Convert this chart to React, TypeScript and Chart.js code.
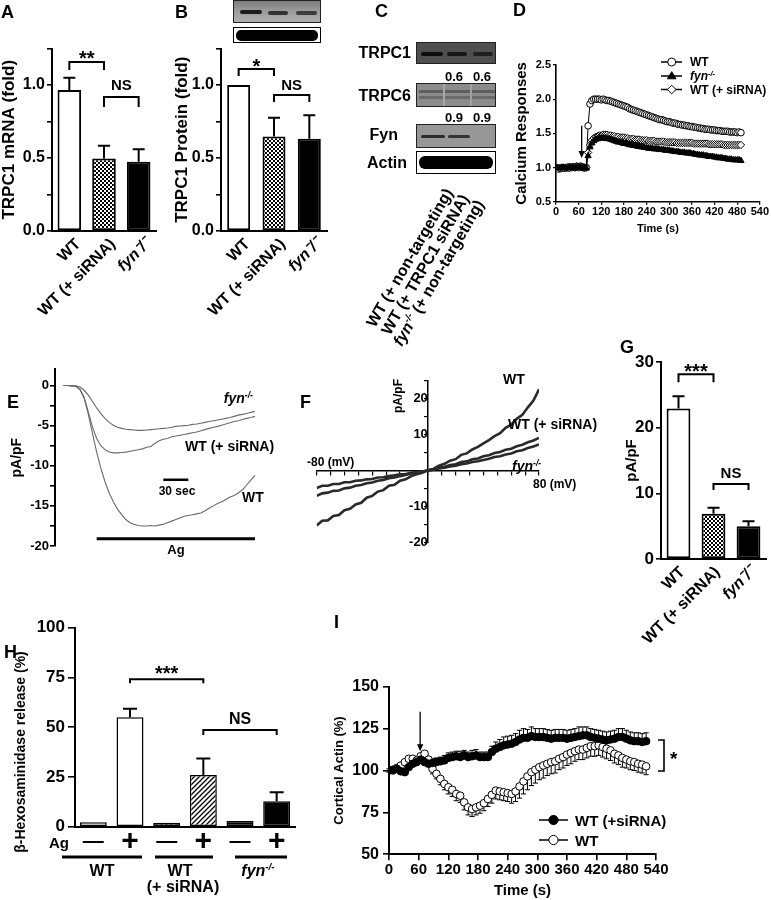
import React, { useEffect, useRef } from 'react';
import { Chart, registerables } from 'chart.js';

Chart.register(...registerables);

const FONT = "'Liberation Sans', Arial, Helvetica, sans-serif";

/* ================= DATA ================= */
const GROUP3 = ['WT', 'WT (+ siRNA)', 'fyn\u207B/\u207B'];

const A_MRNA = [0.965, 0.497, 0.475];
const A_MRNA_SEM = [0.085, 0.087, 0.085];

const B_PROTEIN = [1.0, 0.648, 0.632];
const B_PROTEIN_SEM = [0.004, 0.128, 0.16];

const G_CURRENT = [22.9, 6.9, 5.0];
const G_CURRENT_SEM = [1.9, 0.9, 0.75];

const H_AG = ['\u2014', '+', '\u2014', '+', '\u2014', '+'];
const H_RELEASE = [2.2, 55.0, 2.0, 26.0, 2.8, 12.8];
const H_RELEASE_SEM = [0.2, 4.2, 0.2, 8.2, 0.3, 4.5];

// D: calcium responses, sampled every 5 s from 0 s
const D_TIME_STEP = 5;
const D_WT = [
  1.00, 0.99, 0.98, 0.99, 1.00, 0.99, 1.00, 1.01, 1.00, 1.01, 1.00, 1.02, 1.01, 1.02, 1.01, 1.00, 1.00,
  1.61, 1.93, 1.98, 2.00, 2.00, 2.00, 2.00, 1.99, 2.00, 1.99,
  1.98, 1.98, 1.97, 1.96, 1.95, 1.94, 1.93, 1.92, 1.91, 1.90,
  1.89, 1.88, 1.86, 1.85, 1.84, 1.83, 1.82, 1.81, 1.80, 1.79,
  1.78, 1.77, 1.76, 1.75, 1.74, 1.73, 1.72, 1.71, 1.70, 1.70,
  1.69, 1.68, 1.67, 1.67, 1.66, 1.65, 1.65, 1.64, 1.63, 1.63,
  1.62, 1.62, 1.61, 1.61, 1.60, 1.60, 1.59, 1.59, 1.58, 1.58,
  1.57, 1.57, 1.56, 1.56, 1.56, 1.55, 1.55, 1.55, 1.54, 1.54,
  1.54, 1.53, 1.53, 1.53, 1.53, 1.52, 1.52, 1.52, 1.52, 1.51,
  1.52, 1.51,
];
const D_SIRNA = [
  0.99, 0.98, 0.99, 1.00, 0.99, 1.00, 1.00, 0.99, 1.00, 1.01, 1.00, 1.01, 1.00, 1.01, 1.00, 0.99, 1.00,
  1.22, 1.33, 1.40, 1.43, 1.45, 1.46, 1.47, 1.47, 1.48, 1.48,
  1.48, 1.47, 1.47, 1.46, 1.46, 1.45, 1.45, 1.44, 1.44, 1.44,
  1.43, 1.43, 1.42, 1.42, 1.42, 1.41, 1.41, 1.41, 1.40, 1.40,
  1.40, 1.40, 1.39, 1.39, 1.39, 1.39, 1.38, 1.38, 1.38, 1.38,
  1.38, 1.37, 1.37, 1.37, 1.37, 1.37, 1.37, 1.36, 1.36, 1.36,
  1.36, 1.36, 1.36, 1.36, 1.36, 1.36, 1.35, 1.35, 1.35, 1.35,
  1.35, 1.35, 1.35, 1.35, 1.34, 1.34, 1.34, 1.34, 1.34, 1.34,
  1.34, 1.34, 1.33, 1.33, 1.33, 1.33, 1.33, 1.33, 1.33, 1.33,
  1.33, 1.33,
];
const D_FYN = [
  1.00, 0.99, 0.99, 1.00, 1.00, 0.99, 0.99, 1.00, 1.00, 1.00, 0.99, 1.00, 1.00, 1.00, 0.99, 0.99, 0.99,
  1.17, 1.30, 1.36, 1.39, 1.41, 1.42, 1.43, 1.43, 1.43, 1.43,
  1.42, 1.42, 1.41, 1.40, 1.39, 1.38, 1.37, 1.37, 1.36, 1.35,
  1.35, 1.34, 1.33, 1.33, 1.32, 1.32, 1.31, 1.31, 1.30, 1.30,
  1.29, 1.29, 1.28, 1.28, 1.28, 1.27, 1.27, 1.27, 1.26, 1.26,
  1.26, 1.25, 1.25, 1.25, 1.24, 1.24, 1.23, 1.23, 1.23, 1.22,
  1.22, 1.22, 1.21, 1.21, 1.21, 1.20, 1.20, 1.19, 1.19, 1.18,
  1.18, 1.18, 1.17, 1.17, 1.16, 1.16, 1.16, 1.15, 1.15, 1.14,
  1.14, 1.14, 1.13, 1.13, 1.12, 1.12, 1.12, 1.11, 1.11, 1.11,
  1.11, 1.10,
];

// E: whole-cell current traces, sampled every 5 s from 10 s
const E_TIME_START = 10;
const E_TIME_STEP = 5;
const E_WT = [
  0, 0, -0.05, -0.1, -0.5, -1.6, -3.6, -6.0, -8.3, -10.3,
  -12.0, -13.4, -14.5, -15.4, -16.1, -16.7, -17.1, -17.3, -17.45, -17.5,
  -17.5, -17.45, -17.5, -17.4, -17.3, -17.1, -16.9, -16.7, -16.5, -16.3,
  -16.2, -16.1, -16.0, -15.9, -15.6, -15.3, -15.0, -14.7, -14.5, -14.2,
  -13.9, -13.7, -13.4, -13.0, -12.4, -11.8, -11.2,
];
const E_SIRNA = [
  0, 0, -0.05, -0.1, -0.5, -1.5, -3.3, -5.2, -6.6, -7.5,
  -8.0, -8.3, -8.4, -8.4, -8.35, -8.3, -8.2, -8.1, -8.0, -7.9,
  -7.7, -7.6, -7.2, -6.9, -6.7, -6.6, -6.4, -6.3, -6.2, -6.1,
  -6.0, -5.9, -5.8, -5.65, -5.5, -5.35, -5.2, -5.1, -4.95, -4.8,
  -4.65, -4.5, -4.4, -4.25, -4.1, -4.0, -3.85,
];
const E_FYN = [
  0, 0, -0.02, -0.05, -0.2, -0.6, -1.2, -2.0, -2.8, -3.5,
  -4.1, -4.6, -4.95, -5.2, -5.35, -5.45, -5.5, -5.55, -5.6, -5.6,
  -5.55, -5.5, -5.45, -5.4, -5.35, -5.3, -5.2, -5.1, -5.05, -5.0,
  -4.95, -4.85, -4.8, -4.7, -4.6, -4.5, -4.4, -4.3, -4.2, -4.1,
  -4.0, -3.85, -3.7, -3.6, -3.5, -3.35, -3.25,
];

// F: I-V relations, every 4 mV from -80 mV
const F_V_START = -80;
const F_V_STEP = 4;
const F_WT = [
  -15.2, -13.9, -13.8, -12.6, -12.3, -11.0, -10.6, -9.4, -8.9, -7.5,
  -7.0, -5.8, -5.4, -4.2, -3.9, -2.8, -2.4, -1.5, -1.0, -0.6,
  0.1, 0.5, 1.4, 1.9, 2.8, 3.2, 4.4, 4.8, 5.9, 6.6,
  7.6, 8.5, 9.6, 10.4, 11.9, 12.8, 14.4, 15.5, 17.6, 19.5, 22.6,
];
const F_SIRNA = [
  -7.0, -6.3, -6.1, -5.6, -5.5, -4.9, -4.7, -4.2, -4.0, -3.5,
  -3.3, -2.8, -2.6, -2.1, -1.9, -1.5, -1.2, -0.8, -0.6, -0.2,
  0.1, 0.4, 0.9, 1.1, 1.6, 1.8, 2.4, 2.6, 3.2, 3.4,
  4.0, 4.3, 4.9, 5.2, 5.8, 6.1, 6.8, 7.2, 7.9, 8.4, 9.1,
];
const F_FYN = [
  -4.8, -4.2, -4.2, -3.7, -3.7, -3.2, -3.2, -2.8, -2.7, -2.4,
  -2.3, -1.9, -1.8, -1.5, -1.3, -1.0, -0.9, -0.6, -0.4, -0.2,
  0.0, 0.3, 0.6, 0.8, 1.2, 1.4, 1.8, 2.0, 2.4, 2.6,
  3.0, 3.3, 3.8, 4.0, 4.5, 4.8, 5.4, 5.7, 6.3, 6.7, 7.3,
];

// I: cortical actin, every 8 s from 0 s
const I_TIME_STEP = 8;
const I_SIRNA = [
  100, 100.5, 101, 99.5, 99, 102, 104, 105, 106.5, 105,
  104, 104.5, 105, 105.5, 106, 107.5, 108, 108.5, 108, 109,
  108, 108.5, 109, 108, 108, 108, 111, 113, 114, 115,
  115.5, 116, 117, 118.5, 119.5, 119.5, 120.5, 120, 120, 120,
  119.5, 119, 119.5, 119.5, 119.5, 119, 119.5, 120, 120.5, 121,
  121, 120, 119.5, 119, 118.5, 118, 118.5, 119, 120, 120,
  119, 118, 117.5, 117.5, 117, 117.5,
];
const I_SIRNA_SEM = [
  1, 1.5, 1.5, 2, 2, 2, 2, 2, 2.5, 2.5,
  2.5, 2.5, 2.5, 2.5, 3, 3, 3, 3, 3.5, 3,
  3, 3.5, 3.5, 3, 3, 3, 3.5, 4, 4.5, 5,
  5, 5, 5, 5.5, 5.5, 5, 5.5, 5, 5, 5,
  5, 5, 5, 5, 5, 5, 5, 5, 5.5, 5,
  5, 5, 5, 5, 5, 5, 5, 5, 5, 5,
  5, 5, 5, 5, 5, 5,
];
const I_WT = [
  100, 100, 101.5, 103, 105, 107, 107, 106, 108.5, 110,
  106.5, 101, 98, 95, 92, 90, 88.5, 86, 85, 81,
  78, 77, 78, 79, 80.5, 83, 85.5, 88, 87.5, 87,
  86.5, 86, 87.5, 90.5, 93.5, 96.5, 99, 100.5, 102, 103,
  104, 105, 105.5, 107, 108, 109.5, 110.5, 111.5, 112.5, 112.5,
  113.5, 114.5, 114.5, 115, 114, 113, 112, 110, 109, 107.5,
  106.5, 105.5, 105, 104, 103.5, 102.5,
];
const I_WT_SEM = [
  1, 1, 1.5, 1.5, 2, 2, 2, 2, 2.5, 2.5,
  2.5, 3, 3, 3.5, 3.5, 4, 4, 4, 4, 4.5,
  4.5, 4.5, 4.5, 4.5, 4.5, 4.5, 5, 5, 5, 5,
  5, 5.5, 6, 7, 7.5, 8, 8, 8, 7.5, 7.5,
  7, 7, 7, 6.5, 6.5, 6.5, 6.5, 6, 6, 6,
  6, 6, 6, 6, 6, 6, 6, 5.5, 5.5, 5.5,
  5, 5, 5, 5, 5, 5,
];

/* ================= LAYOUT ================= */
type Box = { L: number; T: number; W: number; H: number };
type Plot = { l: number; t: number; r: number; b: number };

const BOX: Record<string, Box> = {
  A: { L: 0, T: 0, W: 200, H: 330 },
  B: { L: 173, T: 0, W: 190, H: 330 },
  D: { L: 513, T: 0, W: 258, H: 235 },
  E: { L: 9, T: 340, W: 291, H: 221 },
  F: { L: 290, T: 340, W: 310, H: 260 },
  G: { L: 623, T: 330, W: 148, H: 330 },
  H: { L: 11, T: 600, W: 300, H: 300 },
  I: { L: 332, T: 600, W: 439, H: 299 },
};
const PLOT: Record<string, Plot> = {
  A: { l: 52, t: 48.5, r: 156, b: 231 },
  B: { l: 221, t: 48.5, r: 327, b: 231 },
  D: { l: 556, t: 65, r: 761, b: 201.7 },
  E: { l: 55, t: 369.4, r: 290, b: 546 },
  F: { l: 316.7, t: 380.7, r: 539, b: 542.7 },
  G: { l: 661, t: 362, r: 766, b: 559 },
  H: { l: 75, t: 627.5, r: 295, b: 826.7 },
  I: { l: 389, t: 686.7, r: 656, b: 854.3 },
};
const E_TIME_MAX = 282;

/* ================= HELPERS ================= */
const COMMON = {
  responsive: false,
  maintainAspectRatio: false,
  animation: false,
  events: [],
  plugins: { legend: { display: false }, tooltip: { enabled: false } },
};

function gridOpts(tl: number, w: number) {
  return {
    display: true, drawOnChartArea: false, drawTicks: true, tickLength: tl,
    color: '#000', tickColor: '#000', tickWidth: w, lineWidth: w,
  };
}

function yAxis(o: any) {
  return {
    type: 'linear', min: o.min, max: o.max,
    afterFit: (s: any) => { s.width = o.width; },
    ticks: {
      stepSize: o.step, autoSkip: false, includeBounds: false, padding: o.pad, color: '#000',
      font: { family: FONT, size: o.size, weight: 'bold', lineHeight: 1 },
      callback: o.fmt,
    },
    grid: gridOpts(o.tl, o.bw * 0.8),
    border: { display: true, color: '#000', width: o.bw },
    title: o.title
      ? { display: true, text: o.title, color: '#000', font: { family: FONT, size: o.titleSize, weight: 'bold', lineHeight: 1 }, padding: { top: 1, bottom: 0 } }
      : { display: false },
  };
}

function xLin(o: any) {
  return {
    type: 'linear', min: o.min, max: o.max,
    afterFit: (s: any) => { s.height = o.height; },
    ticks: {
      stepSize: o.step, autoSkip: false, minRotation: 0, maxRotation: 0, padding: o.pad, color: '#000',
      font: { family: FONT, size: o.size, weight: 'bold', lineHeight: 1 },
      callback: (v: any) => String(v),
    },
    grid: gridOpts(o.tl, o.bw * 0.8),
    border: { display: true, color: '#000', width: o.bw },
    title: { display: true, text: o.title, color: '#000', font: { family: FONT, size: o.titleSize, weight: 'bold', lineHeight: 1 }, padding: { top: 0, bottom: 1 } },
  };
}

function catX(o: any) {
  return {
    type: 'category', offset: true,
    afterFit: (s: any) => { s.height = o.height; },
    grid: { display: false, drawTicks: false, drawOnChartArea: false },
    border: { display: true, color: '#000', width: 2 },
    ticks: {
      autoSkip: false, minRotation: o.rot, maxRotation: o.rot, padding: o.pad, labelOffset: o.lo || 0,
      color: '#000', font: o.font,
    },
  };
}

function pad(box: Box, plot: Plot, left = 0, bottom = 0) {
  return { left, top: plot.t - box.T, right: box.L + box.W - plot.r, bottom };
}

function checker(): any {
  const c = document.createElement('canvas');
  c.width = 4; c.height = 4;
  const g = c.getContext('2d')!;
  g.fillStyle = '#fff'; g.fillRect(0, 0, 4, 4);
  g.fillStyle = '#000'; g.fillRect(0, 0, 2, 2); g.fillRect(2, 2, 2, 2);
  return g.createPattern(c, 'repeat');
}
function hatch(): any {
  const c = document.createElement('canvas');
  c.width = 5; c.height = 5;
  const g = c.getContext('2d')!;
  g.fillStyle = '#fff'; g.fillRect(0, 0, 5, 5);
  g.strokeStyle = '#000'; g.lineWidth = 1.3;
  g.beginPath();
  g.moveTo(0, 5); g.lineTo(5, 0);
  g.moveTo(-1, 1); g.lineTo(1, -1);
  g.moveTo(4, 6); g.lineTo(6, 4);
  g.stroke();
  return g.createPattern(c, 'repeat');
}

function arrow(ctx: CanvasRenderingContext2D, x: number, y1: number, y2: number) {
  ctx.strokeStyle = '#000'; ctx.fillStyle = '#000'; ctx.lineWidth = 1.3;
  ctx.beginPath(); ctx.moveTo(x, y1); ctx.lineTo(x, y2 - 5); ctx.stroke();
  ctx.beginPath(); ctx.moveTo(x, y2); ctx.lineTo(x - 3.2, y2 - 7); ctx.lineTo(x + 3.2, y2 - 7); ctx.closePath(); ctx.fill();
}

function marker(ctx: CanvasRenderingContext2D, kind: string, x: number, y: number, r: number, fill: string) {
  ctx.lineWidth = 1; ctx.strokeStyle = '#000'; ctx.fillStyle = fill;
  ctx.beginPath();
  if (kind === 'circle') ctx.arc(x, y, r, 0, Math.PI * 2);
  else if (kind === 'tri') { ctx.moveTo(x, y - r); ctx.lineTo(x + r, y + r * 0.65); ctx.lineTo(x - r, y + r * 0.65); ctx.closePath(); }
  else { ctx.moveTo(x, y - r); ctx.lineTo(x + r, y); ctx.lineTo(x, y + r); ctx.lineTo(x - r, y); ctx.closePath(); }
  ctx.fill(); ctx.stroke();
}

type Br = { a: number; b: number; y: number; drop: number; text: string; off: number; size: number };

function drawBracket(c: any, ctx: CanvasRenderingContext2D, br: Br) {
  const xs = c.scales.x, ys = c.scales.y;
  const x1 = xs.getPixelForValue(br.a), x2 = xs.getPixelForValue(br.b), yp = ys.getPixelForValue(br.y);
  ctx.strokeStyle = '#000'; ctx.lineWidth = 2; ctx.lineJoin = 'miter';
  ctx.beginPath();
  ctx.moveTo(x1, yp + br.drop); ctx.lineTo(x1, yp); ctx.lineTo(x2, yp); ctx.lineTo(x2, yp + br.drop);
  ctx.stroke();
  ctx.fillStyle = '#000'; ctx.font = `bold ${br.size}px ${FONT}`; ctx.textAlign = 'center'; ctx.textBaseline = 'alphabetic';
  ctx.fillText(br.text, (x1 + x2) / 2, yp - br.off);
}

function barConfig(key: string, p: any) {
  const box = BOX[key], plot = PLOT[key];
  return {
    type: 'bar',
    data: {
      labels: p.labels,
      datasets: [{
        data: p.values, backgroundColor: p.fills, borderColor: '#000', borderWidth: p.bw || 2,
        borderSkipped: false, barPercentage: p.barPct, categoryPercentage: 1,
      }],
    },
    options: {
      ...COMMON,
      layout: { padding: pad(box, plot) },
      scales: {
        x: catX({ ...p.x, height: box.T + box.H - plot.b }),
        y: yAxis({ ...p.y, width: plot.l - box.L }),
      },
    },
    plugins: [{
      id: 'deco',
      afterDatasetsDraw(c: any) {
        const ctx = c.ctx; ctx.save();
        const meta = c.getDatasetMeta(0); const ys = c.scales.y;
        ctx.strokeStyle = '#000'; ctx.lineWidth = 2;
        meta.data.forEach((el: any, i: number) => {
          const e = p.errs[i];
          const yt = ys.getPixelForValue(p.values[i] + e);
          if (el.y - yt < 2) return;
          ctx.beginPath();
          ctx.moveTo(el.x, el.y); ctx.lineTo(el.x, yt);
          ctx.moveTo(el.x - p.cap, yt); ctx.lineTo(el.x + p.cap, yt);
          ctx.stroke();
        });
        (p.brackets || []).forEach((br: Br) => drawBracket(c, ctx, br));
        if (p.extra) p.extra(c, ctx);
        ctx.restore();
      },
    }],
  };
}

const fmtHalf = (v: number) => (Math.abs(v * 2 - Math.round(v * 2)) < 1e-6 ? v.toFixed(1) : '');
const x3Font = (size: number) => (ctx: any) => ({
  family: FONT, size, weight: 'bold', style: ctx.index === 2 ? 'italic' : 'normal', lineHeight: 1,
});

function makeA() {
  return barConfig('A', {
    labels: GROUP3, values: A_MRNA, errs: A_MRNA_SEM,
    fills: ['#fff', checker(), '#000'], barPct: 0.68, cap: 6,
    x: { rot: 45, pad: 5, lo: 9, font: x3Font(16) },
    y: { min: 0, max: 1.25, step: 0.25, fmt: fmtHalf, size: 16, tl: 5, pad: 2, title: 'TRPC1 mRNA (fold)', titleSize: 17, bw: 2 },
    brackets: [
      { a: 0, b: 1, y: 1.1575, drop: 8, text: '**', off: -2.6, size: 20 },
      { a: 1, b: 2, y: 0.918, drop: 10, text: 'NS', off: 6.5, size: 15 },
    ],
  });
}

function makeB() {
  return barConfig('B', {
    labels: GROUP3, values: B_PROTEIN, errs: B_PROTEIN_SEM,
    fills: ['#fff', checker(), '#000'], barPct: 0.65, cap: 6,
    x: { rot: 45, pad: 5, lo: 9, font: x3Font(16) },
    y: { min: 0, max: 1.25, step: 0.25, fmt: fmtHalf, size: 16, tl: 5, pad: 2, title: 'TRPC1 Protein (fold)', titleSize: 17, bw: 2 },
    brackets: [
      { a: 0, b: 1, y: 1.11, drop: 7, text: '*', off: -3.6, size: 20 },
      { a: 1, b: 2, y: 0.9315, drop: 7, text: 'NS', off: 4.6, size: 15 },
    ],
  });
}

function makeG() {
  return barConfig('G', {
    labels: GROUP3, values: G_CURRENT, errs: G_CURRENT_SEM,
    fills: ['#fff', checker(), '#000'], barPct: 0.68, cap: 6,
    x: { rot: 45, pad: 5, lo: 4, font: x3Font(16) },
    y: { min: 0, max: 30, step: 10, fmt: (v: number) => String(v), size: 17, tl: 5, pad: 2, title: 'pA/pF', titleSize: 15, bw: 2 },
    brackets: [
      { a: 0, b: 1, y: 28.13, drop: 8, text: '***', off: -3.3, size: 20 },
      { a: 1, b: 2, y: 11.42, drop: 6, text: 'NS', off: 6, size: 15 },
    ],
  });
}

function makeH() {
  const box = BOX.H;
  return barConfig('H', {
    labels: H_AG, values: H_RELEASE, errs: H_RELEASE_SEM,
    fills: ['#fff', '#fff', hatch(), hatch(), '#000', '#000'], barPct: 0.735, cap: 7, bw: 1.5,
    x: {
      rot: 0, pad: 5,
      font: (ctx: any) => ({ family: FONT, size: ctx.index % 2 ? 30 : 21, weight: 'bold', lineHeight: '20px' }),
    },
    y: { min: 0, max: 100, step: 25, fmt: (v: number) => String(v), size: 17, tl: 7, pad: 3, title: '', bw: 2 },
    brackets: [
      { a: 1, b: 3, y: 74.0, drop: 4, text: '***', off: -0.3, size: 20 },
      { a: 3, b: 5, y: 48.5, drop: 5, text: 'NS', off: 5.6, size: 16 },
    ],
    extra: (c: any, ctx: CanvasRenderingContext2D) => {
      ctx.strokeStyle = '#000'; ctx.lineWidth = 3;
      [[62, 142], [155, 213], [235, 287]].forEach(([x1, x2]) => {
        ctx.beginPath(); ctx.moveTo(x1 - box.L, 857 - box.T); ctx.lineTo(x2 - box.L, 857 - box.T); ctx.stroke();
      });
    },
  });
}

function makeD() {
  const box = BOX.D, plot = PLOT.D;
  const pts = (arr: number[]) => arr.map((v, i) => ({ x: i * D_TIME_STEP, y: v }));
  const ds = (arr: number[], style: string, fill: string, r: number) => ({
    data: pts(arr), borderColor: '#000', borderWidth: 1, pointStyle: style, pointRadius: r,
    pointBackgroundColor: fill, pointBorderColor: '#000', pointBorderWidth: 1, tension: 0,
  });
  return {
    type: 'line',
    data: { datasets: [ds(D_FYN, 'triangle', '#000', 3.6), ds(D_SIRNA, 'rectRot', '#fff', 3.7), ds(D_WT, 'circle', '#fff', 3.3)] },
    options: {
      ...COMMON,
      layout: { padding: pad(box, plot) },
      scales: {
        x: xLin({ min: 0, max: 540, step: 60, size: 11, tl: 3, pad: 2, height: box.T + box.H - plot.b, title: 'Time (s)', titleSize: 11, bw: 1.6 }),
        y: yAxis({ min: 0.5, max: 2.5, step: 0.5, fmt: (v: number) => v.toFixed(1), size: 11, tl: 3, pad: 2, width: plot.l - box.L, title: 'Calcium Responses', titleSize: 15, bw: 1.6 }),
      },
    },
    plugins: [{
      id: 'deco',
      afterDraw(c: any) {
        const ctx = c.ctx; ctx.save();
        const xs = c.scales.x, ys = c.scales.y;
        arrow(ctx, xs.getPixelForValue(68), ys.getPixelForValue(1.61), ys.getPixelForValue(1.14));
        const items = [
          { y: 62, k: 'circle', f: '#fff' },
          { y: 76, k: 'tri', f: '#000' },
          { y: 89.5, k: 'diamond', f: '#fff' },
        ];
        items.forEach((it) => {
          ctx.strokeStyle = '#000'; ctx.lineWidth = 1.5;
          ctx.beginPath(); ctx.moveTo(661 - box.L, it.y - box.T); ctx.lineTo(682 - box.L, it.y - box.T); ctx.stroke();
          marker(ctx, it.k, 671.7 - box.L, it.y - box.T, it.k === 'circle' ? 4 : 4.3, it.f);
        });
        ctx.restore();
      },
    }],
  };
}

function makeE() {
  const box = BOX.E, plot = PLOT.E;
  const pts = (arr: number[]) => arr.map((v, i) => ({ x: E_TIME_START + i * E_TIME_STEP, y: v }));
  const ds = (arr: number[]) => ({ data: pts(arr), borderColor: '#6a6a6a', borderWidth: 1.1, pointRadius: 0, tension: 0 });
  return {
    type: 'line',
    data: { datasets: [ds(E_WT), ds(E_SIRNA), ds(E_FYN)] },
    options: {
      ...COMMON,
      layout: { padding: pad(box, plot, 0, box.T + box.H - plot.b) },
      scales: {
        x: { type: 'linear', display: false, min: 0, max: E_TIME_MAX },
        y: yAxis({
          min: -20, max: 2, step: 2.5,
          fmt: (v: number) => (v > 0 ? null : v % 5 === 0 ? String(v) : ''),
          size: 13, tl: 5, pad: 1, width: plot.l - box.L, title: 'pA/pF', titleSize: 14, bw: 2,
        }),
      },
    },
    plugins: [{
      id: 'deco',
      afterDraw(c: any) {
        const ctx = c.ctx; ctx.save();
        const xs = c.scales.x, ys = c.scales.y;
        ctx.strokeStyle = '#000';
        ctx.lineWidth = 3;
        ctx.beginPath(); ctx.moveTo(xs.getPixelForValue(50), ys.getPixelForValue(-19.1)); ctx.lineTo(xs.getPixelForValue(240), ys.getPixelForValue(-19.1)); ctx.stroke();
        ctx.lineWidth = 2.5;
        ctx.beginPath(); ctx.moveTo(xs.getPixelForValue(130), ys.getPixelForValue(-11.75)); ctx.lineTo(xs.getPixelForValue(160), ys.getPixelForValue(-11.75)); ctx.stroke();
        ctx.restore();
      },
    }],
  };
}

function makeF() {
  const box = BOX.F, plot = PLOT.F;
  const pts = (arr: number[]) => arr.map((v, i) => ({ x: F_V_START + i * F_V_STEP, y: v }));
  const ds = (arr: number[]) => ({ data: pts(arr), borderColor: '#2a2a2a', borderWidth: 2.6, pointRadius: 0, tension: 0 });
  return {
    type: 'line',
    data: { datasets: [ds(F_FYN), ds(F_SIRNA), ds(F_WT)] },
    options: {
      ...COMMON,
      layout: { padding: { left: plot.l - box.L, top: plot.t - box.T, right: box.L + box.W - plot.r, bottom: box.T + box.H - plot.b } },
      scales: {
        x: {
          type: 'linear', min: -80, max: 80, position: { y: 0 },
          ticks: { stepSize: 10, autoSkip: false, callback: () => '', padding: 0, font: { size: 2 } },
          grid: gridOpts(4, 1.2),
          border: { display: true, color: '#000', width: 1.5 },
        },
        y: {
          type: 'linear', min: -20, max: 25, position: { x: 0 },
          ticks: {
            stepSize: 5, autoSkip: false, padding: 1, color: '#000',
            font: { family: FONT, size: 13, weight: 'bold', lineHeight: 1 },
            callback: (v: number) => (v % 10 === 0 && v !== 0 ? String(v) : ''),
          },
          grid: gridOpts(3, 1.2),
          border: { display: true, color: '#000', width: 1.5 },
        },
      },
    },
  };
}

function makeI() {
  const box = BOX.I, plot = PLOT.I;
  const pts = (arr: number[]) => arr.map((v, i) => ({ x: i * I_TIME_STEP, y: v }));
  const ds = (arr: number[], fill: string) => ({
    data: pts(arr), borderColor: '#000', borderWidth: 1, pointStyle: 'circle', pointRadius: 3.8,
    pointBackgroundColor: fill, pointBorderColor: '#000', pointBorderWidth: 1, tension: 0,
  });
  return {
    type: 'line',
    data: { datasets: [ds(I_SIRNA, '#000'), ds(I_WT, '#fff')] },
    options: {
      ...COMMON,
      layout: { padding: pad(box, plot) },
      scales: {
        x: xLin({ min: 0, max: 540, step: 60, size: 15, tl: 6, pad: 2, height: box.T + box.H - plot.b, title: 'Time (s)', titleSize: 15, bw: 2 }),
        y: yAxis({ min: 50, max: 150, step: 25, fmt: (v: number) => String(v), size: 16, tl: 6, pad: 4, width: plot.l - box.L, title: 'Cortical Actin (%)', titleSize: 13, bw: 2 }),
      },
    },
    plugins: [{
      id: 'deco',
      beforeDatasetsDraw(c: any) {
        const ctx = c.ctx; ctx.save();
        const ys = c.scales.y;
        ctx.strokeStyle = '#000'; ctx.lineWidth = 1;
        const sets: any[] = [[0, I_SIRNA, I_SIRNA_SEM, 1], [1, I_WT, I_WT_SEM, -1]];
        sets.forEach(([di, vals, sem, dir]) => {
          c.getDatasetMeta(di).data.forEach((p: any, i: number) => {
            const yt = ys.getPixelForValue(vals[i] + dir * sem[i]);
            ctx.beginPath();
            ctx.moveTo(p.x, p.y); ctx.lineTo(p.x, yt);
            ctx.moveTo(p.x - 2.6, yt); ctx.lineTo(p.x + 2.6, yt);
            ctx.stroke();
          });
        });
        ctx.restore();
      },
      afterDraw(c: any) {
        const ctx = c.ctx; ctx.save();
        const xs = c.scales.x, ys = c.scales.y;
        arrow(ctx, xs.getPixelForValue(63), ys.getPixelForValue(135), ys.getPixelForValue(111.5));
        // significance bracket
        ctx.strokeStyle = '#000'; ctx.lineWidth = 1.6;
        ctx.beginPath();
        ctx.moveTo(658 - box.L, 740 - box.T); ctx.lineTo(664 - box.L, 740 - box.T);
        ctx.lineTo(664 - box.L, 771 - box.T); ctx.lineTo(658 - box.L, 771 - box.T);
        ctx.stroke();
        // legend
        [{ y: 820, f: '#000' }, { y: 840, f: '#fff' }].forEach((it) => {
          ctx.strokeStyle = '#000'; ctx.lineWidth = 1.5;
          ctx.beginPath(); ctx.moveTo(539 - box.L, it.y - box.T); ctx.lineTo(568 - box.L, it.y - box.T); ctx.stroke();
          marker(ctx, 'circle', 553.5 - box.L, it.y - box.T, 4.6, it.f);
        });
        ctx.restore();
      },
    }],
  };
}

/* ================= COMPONENTS ================= */
function ChartCanvas({ box, make }: { box: Box; make: () => any }) {
  const ref = useRef<HTMLCanvasElement | null>(null);
  useEffect(() => {
    if (!ref.current) return;
    const ch = new Chart(ref.current, make());
    return () => ch.destroy();
  }, []);
  return (
    <canvas ref={ref} width={box.W} height={box.H}
      style={{ position: 'absolute', left: box.L, top: box.T, width: box.W, height: box.H }} />
  );
}

function Tx({ x, y, s = 14, a = 'l', it = false, rot = 0, children }: any) {
  const tx = a === 'r' ? '-100%' : a === 'c' ? '-50%' : '0px';
  const origin = a === 'r' ? '100% 50%' : a === 'c' ? '50% 50%' : '0% 50%';
  return (
    <div style={{
      position: 'absolute', left: x, top: rot ? y - s / 2 : y - 0.49 * s,
      fontFamily: FONT, fontSize: s, fontWeight: 700, fontStyle: it ? 'italic' : 'normal',
      lineHeight: `${s}px`, whiteSpace: 'nowrap', color: '#000',
      transformOrigin: origin, transform: `translateX(${tx})${rot ? ` rotate(${rot}deg)` : ''}`,
    }}>{children}</div>
  );
}

const Sup = ({ children }: any) => (
  <span style={{ fontSize: '0.62em', position: 'relative', top: '-0.62em' }}>{children}</span>
);
const Fyn = () => <span style={{ fontStyle: 'italic' }}>fyn<Sup>-/-</Sup></span>;

function Blot({ x, y, w, h, bg, border = '1px solid #222', bands = [] }: any) {
  return (
    <div style={{ position: 'absolute', left: x, top: y, width: w, height: h, background: bg, border, boxSizing: 'border-box', overflow: 'hidden' }}>
      {bands.map((b: any, i: number) => (
        <div key={i} style={{ position: 'absolute', left: b[0], top: b[1], width: b[2], height: b[3], background: b[4], borderRadius: b[5] ?? 2, filter: 'blur(0.7px)' }} />
      ))}
    </div>
  );
}

export default function App() {
  return (
    <div style={{ position: 'absolute', left: 0, top: 0, width: 771, height: 900, background: '#fff', overflow: 'hidden' }}>
      <ChartCanvas box={BOX.A} make={makeA} />
      <ChartCanvas box={BOX.B} make={makeB} />
      <ChartCanvas box={BOX.D} make={makeD} />
      <ChartCanvas box={BOX.E} make={makeE} />
      <ChartCanvas box={BOX.F} make={makeF} />
      <ChartCanvas box={BOX.G} make={makeG} />
      <ChartCanvas box={BOX.H} make={makeH} />
      <ChartCanvas box={BOX.I} make={makeI} />

      {/* panel letters */}
      <Tx x={1} y={12} s={18}>A</Tx>
      <Tx x={175} y={12} s={18}>B</Tx>
      <Tx x={375} y={11} s={18}>C</Tx>
      <Tx x={513} y={10} s={18}>D</Tx>
      <Tx x={7} y={402} s={18}>E</Tx>
      <Tx x={300} y={402} s={18}>F</Tx>
      <Tx x={620} y={347} s={18}>G</Tx>
      <Tx x={4} y={652} s={18}>H</Tx>
      <Tx x={334} y={622} s={18}>I</Tx>

      {/* B blots */}
      <Blot x={233} y={0} w={88} h={23} bg="linear-gradient(#7c7c7c, #9a9a9a 45%, #b0b0b0)"
        bands={[[6, 9, 22, 4, '#1c1c1c'], [34, 10, 20, 4, '#333'], [62, 10, 21, 3.5, '#3d3d3d']]} />
      <Blot x={233} y={27} w={88} h={16} bg="#fff" border="1px solid #000"
        bands={[[2, 2, 82, 11, '#000', 5]]} />

      {/* C blots and labels */}
      <Tx x={411} y={53} s={16} a="r">TRPC1</Tx>
      <Tx x={411} y={96} s={16} a="r">TRPC6</Tx>
      <Tx x={398} y={135} s={16} a="r">Fyn</Tx>
      <Tx x={407} y={163} s={16} a="r">Actin</Tx>
      <Blot x={416} y={42} w={80} h={22} bg="#4f4f4f"
        bands={[[4, 9, 22, 4, '#0d0d0d'], [30, 9, 20, 4, '#161616'], [56, 9, 20, 3.5, '#202020']]} />
      <Tx x={454} y={76} s={13} a="c">0.6</Tx>
      <Tx x={482} y={76} s={13} a="c">0.6</Tx>
      <Blot x={416} y={83} w={80} h={24} bg="#8c8c8c"
        bands={[[2, 6, 76, 2.5, '#5e5e5e', 0], [2, 12, 76, 2.5, '#6a6a6a', 0], [26, 0, 2, 24, '#a8a8a8', 0], [53, 0, 2, 24, '#a2a2a2', 0]]} />
      <Tx x={454} y={117} s={13} a="c">0.9</Tx>
      <Tx x={482} y={117} s={13} a="c">0.9</Tx>
      <Blot x={416} y={124} w={80} h={24} bg="#979797"
        bands={[[4, 10, 24, 3, '#2a2a2a'], [31, 10, 22, 3, '#333']]} />
      <Blot x={416} y={151} w={80} h={23} bg="#fff" border="1px solid #000"
        bands={[[2, 4, 74, 13, '#000', 6]]} />
      <Tx x={449} y={190} s={16} a="r" rot={-60}>WT (+ non-targeting)</Tx>
      <Tx x={465} y={196} s={16} a="r" rot={-60}>WT (+ TRPC1 siRNA)</Tx>
      <Tx x={481} y={201} s={16} a="r" rot={-60}><Fyn /> (+ non-targeting)</Tx>

      {/* D legend */}
      <Tx x={690} y={62} s={12}>WT</Tx>
      <Tx x={690} y={76} s={12}><Fyn /></Tx>
      <Tx x={690} y={89.5} s={12}>WT (+ siRNA)</Tx>

      {/* E annotations */}
      <Tx x={253} y={398} s={14} a="r"><Fyn /></Tx>
      <Tx x={185} y={446} s={14}>WT (+ siRNA)</Tx>
      <Tx x={242} y={497} s={14}>WT</Tx>
      <Tx x={177} y={491} s={12} a="c">30 sec</Tx>
      <Tx x={176} y={549} s={13} a="c">Ag</Tx>

      {/* F annotations */}
      <Tx x={398} y={396} s={12} a="c" rot={-90}>pA/pF</Tx>
      <Tx x={307} y={462} s={12}>-80 (mV)</Tx>
      <Tx x={533} y={484} s={12}>80 (mV)</Tx>
      <Tx x={503} y={379} s={14}>WT</Tx>
      <Tx x={508} y={424} s={14}>WT (+ siRNA)</Tx>
      <Tx x={512} y={466} s={14}><Fyn /></Tx>

      {/* H annotations */}
      <Tx x={20} y={752} s={14} a="c" rot={-90}>{'\u03B2-Hexosaminidase release (%)'}</Tx>
      <Tx x={59} y={842} s={15} a="c">Ag</Tx>
      <Tx x={102} y={871} s={16} a="c">WT</Tx>
      <Tx x={180} y={871} s={16} a="c">WT</Tx>
      <Tx x={183} y={887} s={16} a="c">(+ siRNA)</Tx>
      <Tx x={258} y={871} s={16} a="c"><Fyn /></Tx>

      {/* I annotations */}
      <Tx x={670} y={758} s={19}>*</Tx>
      <Tx x={575} y={820} s={15}>WT (+siRNA)</Tx>
      <Tx x={575} y={840} s={15}>WT</Tx>
    </div>
  );
}
